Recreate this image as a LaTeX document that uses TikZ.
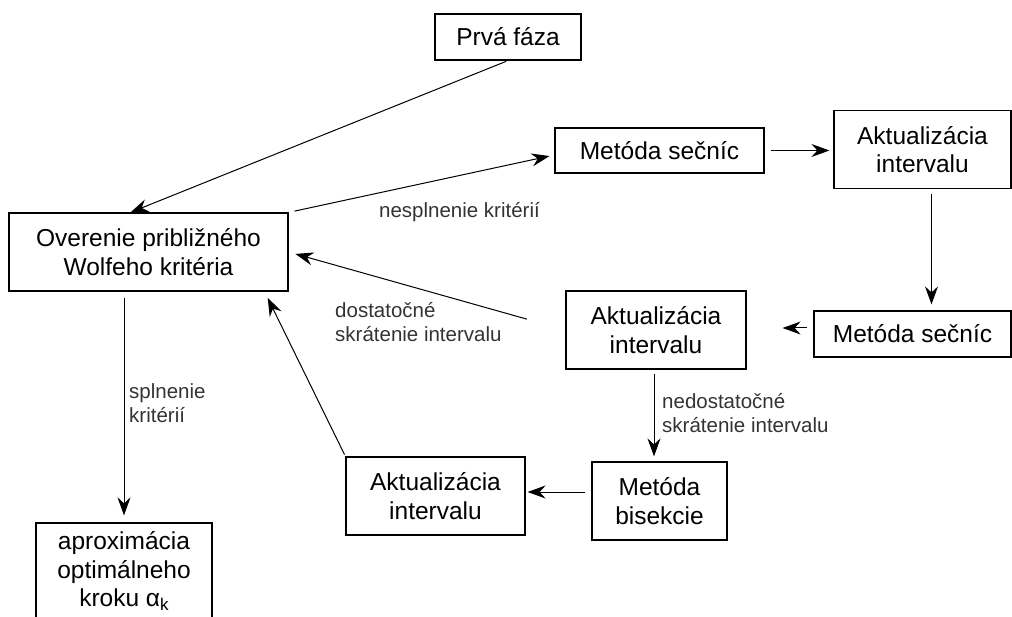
\documentclass[tikz,border=0pt]{standalone}
\usepackage{fontspec}
\setmainfont{Liberation Sans}
\usetikzlibrary{arrows.meta}
\begin{document}
\begin{tikzpicture}[x=1pt,y=-1pt,
        blok/.style={draw,line width=1.2pt,inner sep=0pt,align=center,font=\fontsize{24.5}{28.5}\selectfont},
        popis/.style={inner sep=0pt,align=left,text=black!80,font=\fontsize{20.5}{24}\selectfont},
        sipka/.style={-{Stealth[length=18pt,width=13pt,inset=6pt]},line width=1pt}]
        \useasboundingbox (0,0) rectangle (1012,617);
        \clip (0,0) rectangle (1012,617);
        \path (508,37) node [blok,minimum width=146pt,minimum height=46pt](prva){Prvá fáza};
        \path (148.5,252) node [blok,minimum width=279pt,minimum height=78pt](over){Overenie približného\\Wolfeho kritéria};
        \path (659.5,150.5) node [blok,minimum width=209pt,minimum height=45pt](sec1){Metóda sečníc};
        \path (922.5,149.5) node [blok,minimum width=177pt,minimum height=78pt](akt1){Aktualizácia\\intervalu};
        \path (912.5,334) node [blok,minimum width=197pt,minimum height=46pt](sec2){Metóda sečníc};
        \path (656,330) node [blok,minimum width=180pt,minimum height=78pt](akt2){Aktualizácia\\intervalu};
        \path (659.5,501) node [blok,minimum width=135pt,minimum height=78pt](bis){Metóda\\bisekcie};
        \path (435.5,496) node [blok,minimum width=179pt,minimum height=78pt](akt3){Aktualizácia\\intervalu};
        \path (124,571) node [blok,minimum width=176pt,minimum height=96pt](aprox){aproximácia\\optimálneho\\kroku α\raisebox{-4pt}{\fontsize{17}{17}\selectfont k}};
        \draw[sipka,shorten <=2pt] (prva.south) -- ([xshift=-18pt]over.north);
        \draw[sipka,shorten <=6pt,shorten >=5pt] (over.north east) -- ([yshift=-4.5pt]sec1.west);
        \draw[sipka,shorten <=6pt,shorten >=4pt] (sec1.east) -- (sec1.east -| akt1.west);
        \draw[sipka,shorten <=5pt,shorten >=6pt] ([xshift=9pt]akt1.south) -- ([xshift=9pt]akt1.south |- sec2.north);
        \draw[sipka,shorten <=6pt,shorten >=36pt] ([yshift=6pt]sec2.west) -- ([yshift=6pt]sec2.west -| akt2.east);
        \draw[sipka,shorten <=40pt,shorten >=7pt] (akt2.west) -- (over.east);
        \draw[sipka,shorten <=4pt,shorten >=5pt] ([xshift=-2pt]akt2.south) -- ([xshift=-2pt]akt2.south |- bis.north);
        \draw[sipka,shorten <=6pt,shorten >=2pt] ([yshift=9pt]bis.west) -- ([yshift=9pt]bis.west -| akt3.east);
        \draw[sipka,shorten <=2pt,shorten >=7pt] (akt3.north west) -- ([xshift=-24pt]over.south east);
        \draw[sipka,shorten <=6pt,shorten >=7pt] (aprox.north |- over.south) -- (aprox.north);
        \path (459.5,212) node [popis](nespl){nesplnenie kritérií};
        \path (335,322) node [popis,anchor=west](dost){dostatočné\\skrátenie intervalu};
        \path (662,413) node [popis,anchor=west](nedost){nedostatočné\\skrátenie intervalu};
        \path (129,403) node [popis,anchor=west](spln){splnenie\\kritérií};
    \end{tikzpicture}
\end{document}
